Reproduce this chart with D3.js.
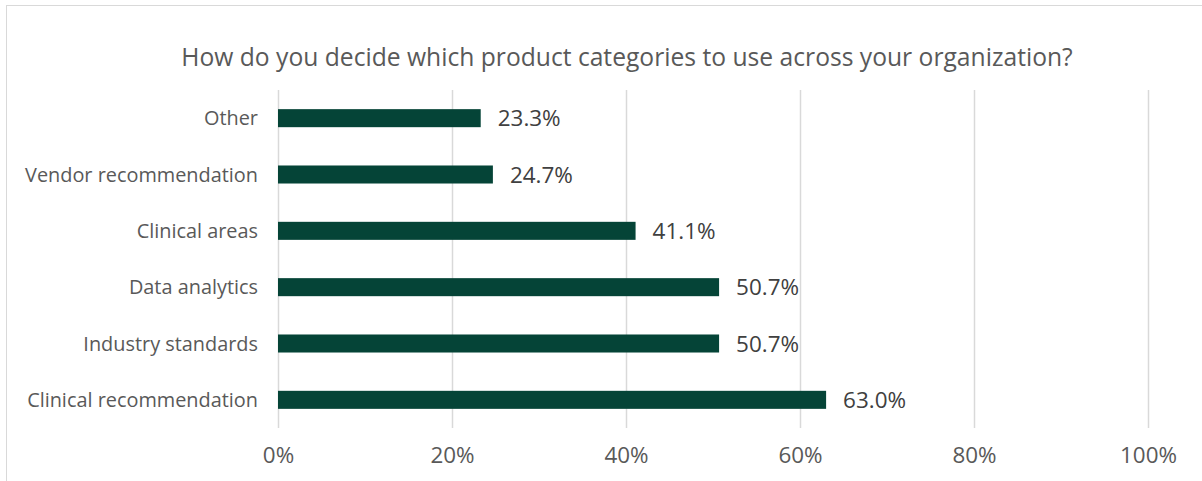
<!DOCTYPE html>
<html>
<head>
<meta charset="utf-8">
<script src="https://cdn.jsdelivr.net/npm/d3@7"></script>
<style>
  html, body { margin: 0; padding: 0; background: #fff; }
  svg { display: block; }
  text { font-family: "Open Sans", "Noto Sans", sans-serif; }
</style>
</head>
<body>
<svg id="chart" width="1202" height="481"></svg>
<script>
// Survey answers, listed top to bottom
const categories = [
  "Other",
  "Vendor recommendation",
  "Clinical areas",
  "Data analytics",
  "Industry standards",
  "Clinical recommendation"
];
const shares = [23.3, 24.7, 41.1, 50.7, 50.7, 63.0];
const tickValues = [0, 20, 40, 60, 80, 100];
const titleText = "How do you decide which product categories to use across your organization?";

const svg = d3.select("#chart");
const W = 1202, H = 481;

// Chart frame
svg.append("rect")
  .attr("x", 6.5).attr("y", 5.5)
  .attr("width", W + 20).attr("height", H + 20)
  .attr("fill", "#fff")
  .attr("stroke", "#d9d9d9").attr("stroke-width", 1);

const plot = { left: 278, right: 1148, top: 90, bottom: 428 };

const x = d3.scaleLinear().domain([0, 100]).range([plot.left, plot.right]);
const y = d3.scaleBand().domain(categories).range([plot.top, plot.bottom]).paddingInner(0.68).paddingOuter(0.34);

// Scale a text group's font size so a sample string spans the given width
function fitSize(sample, targetWidth, weight) {
  const t = svg.append("text").attr("font-size", 100).attr("font-weight", weight || 400).text(sample);
  const w = t.node().getComputedTextLength();
  t.remove();
  return 100 * targetWidth / w;
}
const titleSize = fitSize(titleText, 892);
const catSize = fitSize("Clinical recommendation", 231);
const valSize = fitSize("63.0%", 63);
const tickSize = fitSize("100%", 57);

// Vertical gridlines
svg.append("g")
  .selectAll("line")
  .data(tickValues)
  .join("line")
  .attr("x1", d => Math.round(x(d)) + 0.5)
  .attr("x2", d => Math.round(x(d)) + 0.5)
  .attr("y1", plot.top)
  .attr("y2", plot.bottom)
  .attr("stroke", "#d9d9d9")
  .attr("stroke-width", 1.5);

// Bottom axis labels only
const xAxis = d3.axisBottom(x).tickValues(tickValues).tickFormat(d => d + "%").tickSize(0).tickPadding(0);
const gx = svg.append("g").attr("transform", `translate(0,${plot.bottom})`).call(xAxis);
gx.select(".domain").remove();
gx.selectAll("text")
  .attr("y", 0)
  .attr("dy", null)
  .attr("transform", "translate(0,35)")
  .attr("font-size", tickSize)
  .attr("font-family", null)
  .attr("fill", "#595959");

// Left category labels
const yAxis = d3.axisLeft(y).tickSize(0).tickPadding(0);
const gy = svg.append("g").attr("transform", `translate(${plot.left - 20},0)`).call(yAxis);
gy.select(".domain").remove();
gy.selectAll("text")
  .attr("font-size", catSize)
  .attr("font-family", null)
  .attr("fill", "#595959")
  .attr("dy", "0.36em");

// Bars
svg.append("g")
  .selectAll("rect")
  .data(categories)
  .join("rect")
  .attr("x", x(0))
  .attr("y", d => y(d))
  .attr("width", (d, i) => x(shares[i]) - x(0))
  .attr("height", y.bandwidth())
  .attr("fill", "#054437");

// Value labels
svg.append("g")
  .selectAll("text")
  .data(categories)
  .join("text")
  .attr("x", (d, i) => x(shares[i]) + 17)
  .attr("y", d => y(d) + y.bandwidth() / 2)
  .attr("dy", "0.36em")
  .attr("font-size", valSize)
  .attr("fill", "#404040")
  .text((d, i) => shares[i].toFixed(1) + "%");

// Title
svg.append("text")
  .attr("x", 627)
  .attr("y", 66)
  .attr("text-anchor", "middle")
  .attr("font-size", titleSize)
  .attr("fill", "#595959")
  .text(titleText);
</script>
</body>
</html>
